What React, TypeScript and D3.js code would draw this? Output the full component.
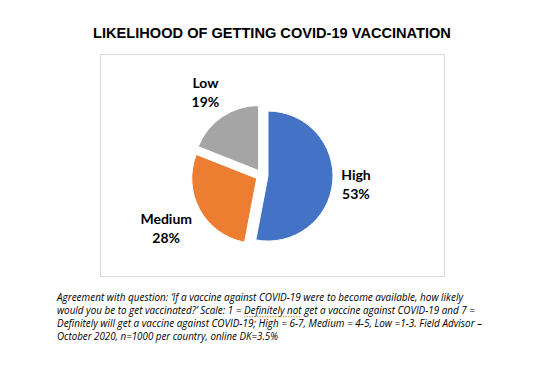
import React, { useEffect, useRef } from "react";
import * as d3 from "d3";

const categories: string[] = ["High", "Medium", "Low"];
const values: number[] = [53, 28, 19];
const colors: string[] = ["#4472C4", "#ED7D31", "#A5A5A5"];
const title = "LIKELIHOOD OF GETTING COVID-19 VACCINATION";
const footnoteLines: string[] = [
  "Agreement with question: \u2018If a vaccine against COVID-19 were to become available, how likely",
  "would you be to get vaccinated?\u2019 Scale: 1 = Definitely not get a vaccine against COVID-19 and 7 =",
  "Definitely will get a vaccine against COVID-19; High = 6-7, Medium = 4-5, Low =1-3.  Field Advisor \u2013",
  "October 2020, n=1000 per country, online DK=3.5%",
];
const footnoteWidths: number[] = [406, 418, 425, 221];
const spellMarked = "Definitely not";

export default function App() {
  const ref = useRef<SVGSVGElement>(null);

  useEffect(() => {
    const svg = d3.select(ref.current as SVGSVGElement);
    svg.selectAll("*").remove();

    svg.append("rect").attr("width", 540).attr("height", 375).attr("fill", "#fff");

    // Title
    svg
      .append("text")
      .attr("x", 272)
      .attr("y", 38)
      .attr("text-anchor", "middle")
      .attr("font-family", "'Liberation Sans', Arial, sans-serif")
      .attr("font-weight", "bold")
      .attr("font-size", 14.6)
      .attr("fill", "#000")
      .text(title);

    // Chart frame
    svg
      .append("rect")
      .attr("x", 100.5)
      .attr("y", 54.5)
      .attr("width", 344)
      .attr("height", 222)
      .attr("fill", "none")
      .attr("stroke", "#d9d9d9")
      .attr("stroke-width", 1);

    const cx = 262;
    const cy = 175.5;
    const r = 65;
    const explode = 6;
    const labelR = 78;

    const pie = d3
      .pie<number>()
      .sort(null)
      .value((d) => d);
    const arcs = pie(values);
    const arc = d3
      .arc<d3.PieArcDatum<number>>()
      .innerRadius(0)
      .outerRadius(r);

    const g = svg.append("g").attr("transform", `translate(${cx},${cy})`);

    arcs.forEach((a, i) => {
      const mid = (a.startAngle + a.endAngle) / 2;
      const dx = Math.sin(mid) * explode;
      const dy = -Math.cos(mid) * explode;
      g.append("path")
        .attr("d", arc(a) as string)
        .attr("transform", `translate(${dx},${dy})`)
        .attr("fill", colors[i])
        .attr("stroke", "#fff")
        .attr("stroke-width", 1);
    });

    arcs.forEach((a, i) => {
      const mid = (a.startAngle + a.endAngle) / 2;
      const t = g
        .append("text")
        .attr("font-family", "Lato, 'Open Sans', sans-serif")
        .attr("font-weight", "bold")
        .attr("font-size", 14)
        .attr("fill", "#000")
        .attr("text-anchor", "middle");
      t.append("tspan").attr("x", 0).attr("y", 0).text(categories[i]);
      t.append("tspan").attr("x", 0).attr("y", 19).text(`${values[i]}%`);
      const bb = (t.node() as SVGTextElement).getBBox();
      const w = bb.width;
      const h = bb.height;
      const d = labelR + (Math.abs(Math.sin(mid)) * w) / 2 + (Math.abs(Math.cos(mid)) * h) / 2;
      const px = Math.sin(mid) * d;
      const py = -Math.cos(mid) * d;
      t.attr("transform", `translate(${px - (bb.x + w / 2)},${py - (bb.y + h / 2)})`);
    });

    // Footnote
    footnoteLines.forEach((line, i) => {
      const y = 300.7 + i * 13;
      const t = svg
        .append("text")
        .attr("x", 57)
        .attr("y", y)
        .attr("font-family", "'Open Sans', 'Noto Sans', sans-serif")
        .attr("font-style", "italic")
        .attr("font-size", 10.4)
        .attr("fill", "#000")
        .attr("textLength", footnoteWidths[i])
        .attr("lengthAdjust", "spacingAndGlyphs")
        .text(line);
      const idx = line.indexOf(spellMarked);
      if (idx >= 0) {
        const node = t.node() as SVGTextElement;
        const start = node.getStartPositionOfChar(idx).x;
        const end = node.getEndPositionOfChar(idx + spellMarked.length - 1).x;
        svg
          .append("line")
          .attr("x1", start)
          .attr("x2", end)
          .attr("y1", y + 3)
          .attr("y2", y + 3)
          .attr("stroke", "#c8a050")
          .attr("stroke-width", 1.2)
          .attr("stroke-dasharray", "1.3,1.3");
      }
    });
  }, []);

  return (
    <svg
      ref={ref}
      width={540}
      height={375}
      style={{ position: "absolute", left: 0, top: 0, display: "block" }}
    />
  );
}
